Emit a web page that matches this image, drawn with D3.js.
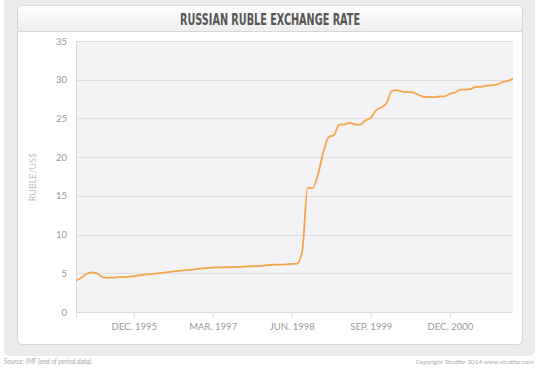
<!DOCTYPE html>
<html>
<head>
<meta charset="utf-8">
<script src="https://cdn.jsdelivr.net/npm/d3@7"></script>
<style>
  body { margin: 0; background: #fff; }
  svg text { font-family: Lato, "Open Sans", sans-serif; }
</style>
</head>
<body>
<svg id="chart" width="547" height="371"></svg>
<script>
// end of period rate, monthly, Jan 1995 - Dec 2001
const months = d3.timeMonth.range(new Date(1995, 0, 1), new Date(2002, 0, 1));
const rubles = [
  4.07, 4.41, 4.90, 5.13, 5.00, 4.54, 4.41, 4.43, 4.51, 4.51, 4.58, 4.64,
  4.73, 4.82, 4.87, 4.95, 5.03, 5.11, 5.19, 5.27, 5.34, 5.40, 5.47, 5.56,
  5.63, 5.67, 5.72, 5.76, 5.77, 5.78, 5.80, 5.83, 5.86, 5.89, 5.92, 5.96,
  6.03, 6.07, 6.11, 6.13, 6.16, 6.20, 6.24, 7.91, 16.06, 16.01, 17.88, 20.65,
  22.60, 22.86, 24.18, 24.23, 24.44, 24.22, 24.19, 24.75, 25.08, 26.05, 26.42, 27.00,
  28.55, 28.66, 28.46, 28.40, 28.36, 28.07, 27.80, 27.75, 27.75, 27.83, 27.86, 28.16,
  28.37, 28.72, 28.73, 28.82, 29.07, 29.07, 29.24, 29.27, 29.39, 29.70, 29.85, 30.14
];
const xTickDates = [new Date(1995, 11, 1), new Date(1997, 2, 1), new Date(1998, 5, 1),
                    new Date(1999, 8, 1), new Date(2000, 11, 1)];
const xTickLabels = ["DEC. 1995", "MAR. 1997", "JUN. 1998", "SEP. 1999", "DEC. 2000"];
const yTicks = [0, 5, 10, 15, 20, 25, 30, 35];

const svg = d3.select('#chart');
const plot = { left: 76, right: 513, top: 41, bottom: 312 };

// frame: outer gray panel, white card, title bar
const defs = svg.append('defs');
const grad = defs.append('linearGradient').attr('id', 'titleGrad')
  .attr('x1', 0).attr('y1', 0).attr('x2', 0).attr('y2', 1);
grad.append('stop').attr('offset', '0%').attr('stop-color', '#fdfdfd');
grad.append('stop').attr('offset', '100%').attr('stop-color', '#eeeeee');

svg.append('rect').attr('x', 4).attr('y', -6).attr('width', 531).attr('height', 362)
  .attr('rx', 6).attr('fill', '#ebebeb');
svg.append('rect').attr('x', 17.5).attr('y', 5.5).attr('width', 505).attr('height', 339)
  .attr('rx', 5).attr('fill', '#fff').attr('stroke', '#d6d6d6');
svg.append('path')
  .attr('d', 'M18,31 L18,10 Q18,6 22,6 L518,6 Q522,6 522,10 L522,31 Z')
  .attr('fill', 'url(#titleGrad)');
svg.append('line').attr('x1', 18).attr('x2', 522).attr('y1', 31.5).attr('y2', 31.5)
  .attr('stroke', '#d8d8d8');

svg.append('text')
  .attr('x', 270).attr('y', 24.5)
  .attr('text-anchor', 'middle')
  .attr('textLength', 180).attr('lengthAdjust', 'spacingAndGlyphs')
  .style('font-family', '"Liberation Sans Narrow", "DejaVu Sans Condensed", sans-serif')
  .style('font-weight', 'bold').style('font-size', '15px')
  .attr('fill', '#575757')
  .text('RUSSIAN RUBLE EXCHANGE RATE');

// scales
const x = d3.scaleTime()
  .domain([months[0], months[months.length - 1]])
  .range([plot.left, plot.right]);
const y = d3.scaleLinear().domain([0, 35]).range([plot.bottom, plot.top]);

svg.append('rect')
  .attr('x', plot.left).attr('y', plot.top)
  .attr('width', plot.right - plot.left).attr('height', plot.bottom - plot.top)
  .attr('fill', '#f3f3f5');

// grid
svg.append('g').selectAll('line')
  .data(yTicks.slice(1))
  .enter().append('line')
  .attr('x1', plot.left).attr('x2', plot.right)
  .attr('y1', d => Math.round(y(d)) + 0.5).attr('y2', d => Math.round(y(d)) + 0.5)
  .attr('stroke', '#dedee0');

// y axis labels
const yAxis = svg.append('g')
  .attr('transform', `translate(${plot.left},0)`)
  .call(d3.axisLeft(y).tickValues(yTicks).tickSize(0).tickPadding(9));
yAxis.select('.domain').remove();
yAxis.selectAll('text').attr('fill', '#999').style('font-size', '9.5px');

// x axis
const xAxis = svg.append('g')
  .attr('transform', `translate(0,${plot.bottom})`)
  .call(d3.axisBottom(x).tickValues(xTickDates).tickSize(6).tickPadding(5)
    .tickFormat((d, i) => xTickLabels[i]));
xAxis.select('.domain').attr('stroke', '#dcdcdc').attr('d', `M${plot.left},0.5H${plot.right}`);
xAxis.selectAll('.tick line').attr('stroke', '#dcdcdc');
xAxis.selectAll('text').attr('fill', '#999').style('font-size', '9.5px');
svg.append('line')
  .attr('x1', plot.left + 0.5).attr('x2', plot.left + 0.5)
  .attr('y1', plot.top).attr('y2', plot.bottom + 6)
  .attr('stroke', '#dcdcdc');

svg.append('text')
  .attr('transform', 'translate(36,177) rotate(-90)')
  .attr('text-anchor', 'middle')
  .attr('fill', '#c4c4c4').style('font-size', '9px')
  .text('RUBLE/US$');

// the rate line
const line = d3.line()
  .x((d, i) => x(months[i]))
  .y(d => y(d))
  .curve(d3.curveMonotoneX);

svg.append('path')
  .datum(rubles)
  .attr('d', line)
  .attr('fill', 'none')
  .attr('stroke', '#f5a54b')
  .attr('stroke-width', 1.8)
  .attr('stroke-linejoin', 'round');

// footer
svg.append('text')
  .attr('x', 4).attr('y', 364)
  .attr('fill', '#aaa').style('font-size', '6.6px').style('font-style', 'italic')
  .text('Source: IMF (end of period data).');
svg.append('text')
  .attr('x', 534).attr('y', 364)
  .attr('text-anchor', 'end')
  .attr('fill', '#aaa').style('font-size', '6.4px')
  .text('Copyright Stratfor 2014     www.stratfor.com');
</script>
</body>
</html>
